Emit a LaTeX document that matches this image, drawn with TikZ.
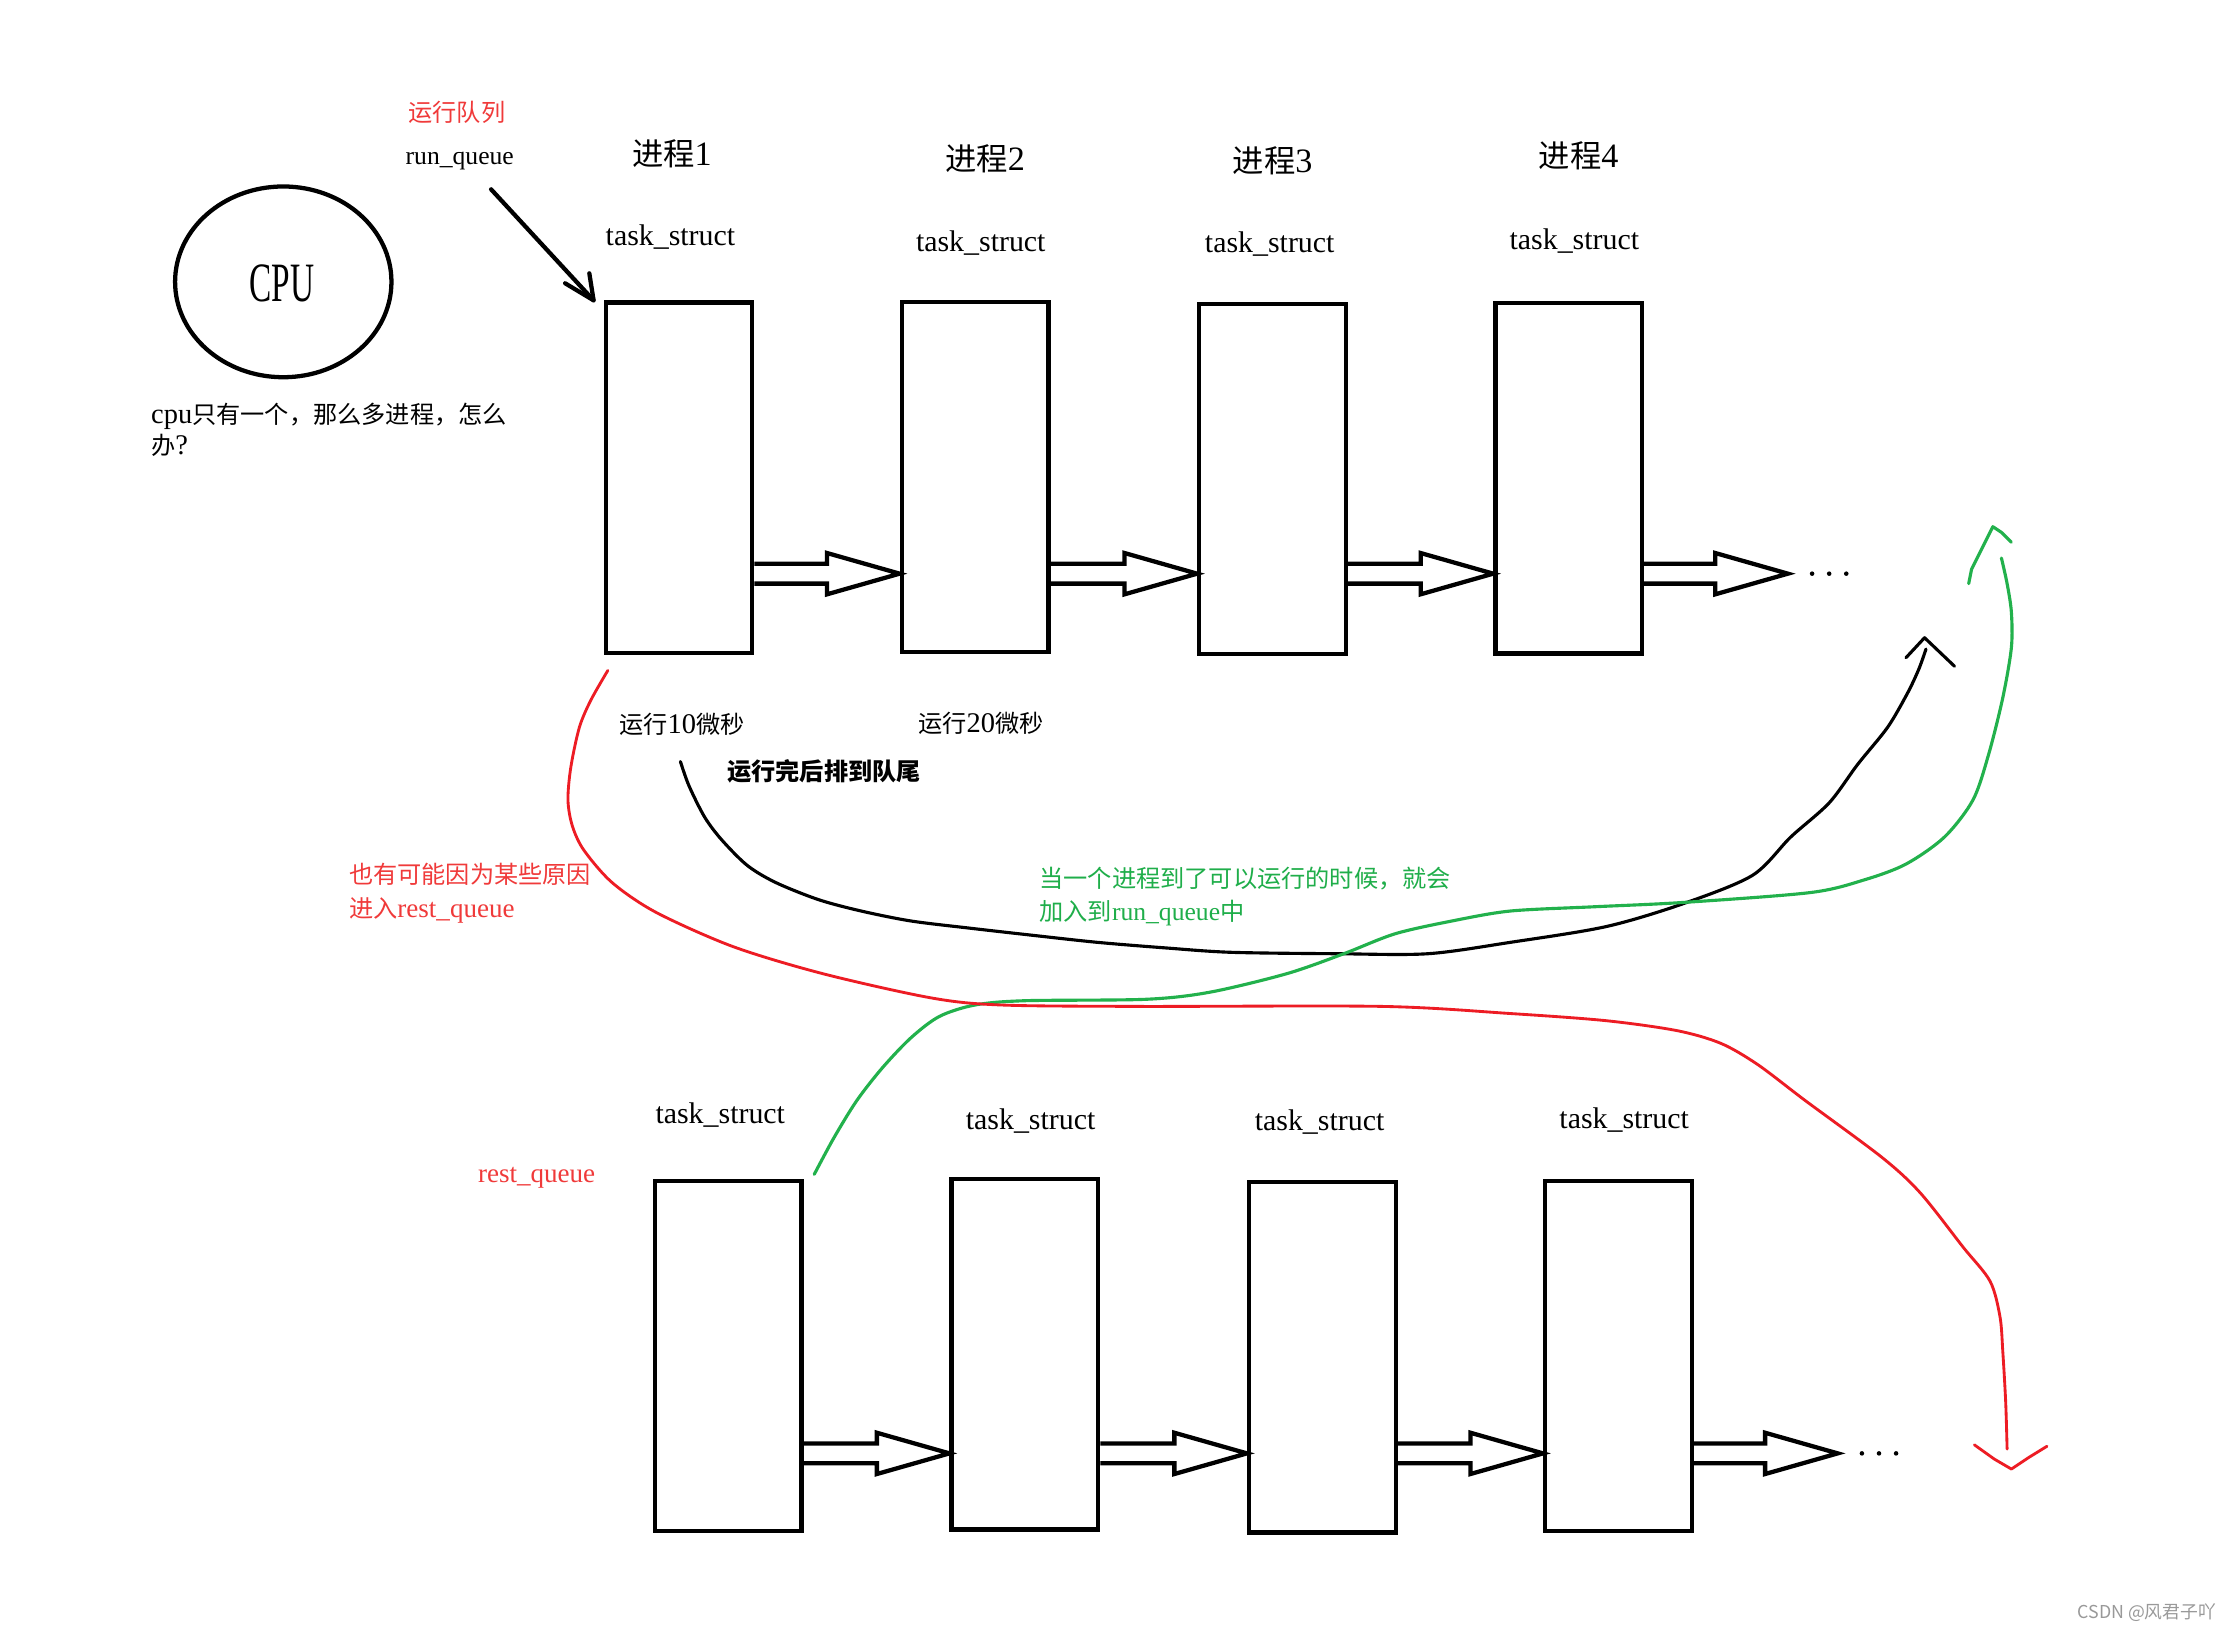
\documentclass[tikz,border=0pt]{standalone}
\usepackage{fontspec}
\usepackage{graphicx}
\setmainfont{Liberation Serif}
\newfontfamily\cjk{Noto Sans CJK SC}
\usetikzlibrary{calc,shapes.geometric}
\definecolor{pred}{HTML}{ED1C24}
\definecolor{pgreen}{HTML}{22B14C}
\definecolor{tred}{HTML}{F03A3A}
\definecolor{tgreen}{HTML}{1FAE4A}
\newcommand\zh[1]{{\cjk\fontsize{17}{22}\selectfont #1}}
\newcommand\zhh[1]{{\cjk\fontsize{22}{26}\selectfont #1}}
\newcommand\blockarr[2]{%
  \draw[blk] ($(#1)+(0,-7)$) -- ($(#2)+(-51,-7)$) -- ($(#2)+(-51,-14.5)$) -- (#2)
    -- ($(#2)+(-51,14.5)$) -- ($(#2)+(-51,7)$) -- ($(#1)+(0,7)$);}
\begin{document}
\begin{tikzpicture}[x=1pt,y=-1pt,
  box/.style={draw, line width=3pt, minimum width=103pt, minimum height=246pt, inner sep=0pt},
  lbl/.style={inner sep=0pt, text height=14pt, text depth=3pt, font=\fontsize{20}{24}\selectfont},
  tsl/.style={lbl, font=\fontsize{21}{24}\selectfont},
  head/.style={inner sep=0pt, text height=19pt, text depth=3pt, font=\fontsize{24}{26}\selectfont},
  blk/.style={draw, line width=3pt, line join=miter},
  hand/.style={line width=2.2pt, line cap=round, line join=round},
]
\fill[white] (0,0) rectangle (1568,1146);
\useasboundingbox (0,0) rectangle (1568,1146);

% CPU
\node[draw, ellipse, line width=3pt, minimum width=152pt, minimum height=134pt, inner sep=0pt] (cpu) at (199,198) {};
\node[inner sep=0pt] (cputxt) at (198,199) {\scalebox{0.6}[1]{\fontsize{39}{40}\selectfont CPU}};
\node[lbl, anchor=west] (q1) at (106,292) {cpu\zh{只有一个，那么多进程，怎么}};
\node[lbl, anchor=west] (q2) at (106,314) {\zh{办}?};

% run queue labels
\node[lbl, text=tred] (rqzh) at (321,80) {\zh{运行队列}};
\node[lbl, font=\fontsize{18}{22}\selectfont] (rq) at (323,110) {run\_queue};

% headings
\node[head] (h1) at (472,108) {\zhh{进程}1};
\node[head] (h2) at (692,112) {\zhh{进程}2};
\node[head] (h3) at (894,113) {\zhh{进程}3};
\node[head] (h4) at (1109,110) {\zhh{进程}4};

% top task_struct labels
\node[tsl] (ts1) at (471,167) {task\_struct};
\node[tsl] (ts2) at (689,171) {task\_struct};
\node[tsl] (ts3) at (892,172) {task\_struct};
\node[tsl] (ts4) at (1106,170) {task\_struct};

% top boxes
\node[box] (t1) at (477,335.5) {};
\node[box] (t2) at (685,335) {};
\node[box] (t3) at (894,336.5) {};
\node[box] (t4) at (1102,336) {};

% top arrows
\coordinate (yt) at (0,403);
\coordinate (a1s) at (t1.east |- yt);
\coordinate (a1e) at (t2.west |- yt);
\coordinate (a2s) at (t2.east |- yt);
\coordinate (a2e) at (t3.west |- yt);
\coordinate (a3s) at (t3.east |- yt);
\coordinate (a3e) at (t4.west |- yt);
\coordinate (a4s) at (t4.east |- yt);
\coordinate (a4e) at (1256,403);
\blockarr{a1s}{a1e}
\blockarr{a2s}{a2e}
\blockarr{a3s}{a3e}
\blockarr{a4s}{a4e}
\fill (1273,403) circle (1.6pt) (1285,403) circle (1.6pt) (1297,403) circle (1.6pt);

% run_queue arrow
\coordinate (rqa) at (345,133);
\coordinate (rqb) at ($(t1.north west)+(-7,0)$);
\draw[hand, line width=3pt] (rqa) -- (rqb);
\draw[hand, line width=3pt] ($(rqb)+(-3,-19)$) -- (rqb) -- ($(rqb)+(-20,-12)$);

% bottom labels
\node[lbl, text=tred, font=\fontsize{19}{22}\selectfont] (restq) at (377,825) {rest\_queue};
\node[tsl] (bs1) at (506,784) {task\_struct};
\node[tsl] (bs2) at (724,788) {task\_struct};
\node[tsl] (bs3) at (927,789) {task\_struct};
\node[tsl] (bs4) at (1141,787) {task\_struct};

% bottom boxes
\node[box] (b1) at (511.5,952.5) {};
\node[box] (b2) at (720,951.5) {};
\node[box] (b3) at (929,953.5) {};
\node[box] (b4) at (1137,952.5) {};

\coordinate (yb) at (0,1021);
\coordinate (c1s) at (b1.east |- yb);
\coordinate (c1e) at (b2.west |- yb);
\coordinate (c2s) at (b2.east |- yb);
\coordinate (c2e) at (b3.west |- yb);
\coordinate (c3s) at (b3.east |- yb);
\coordinate (c3e) at (b4.west |- yb);
\coordinate (c4s) at (b4.east |- yb);
\coordinate (c4e) at (1291,1021);
\blockarr{c1s}{c1e}
\blockarr{c2s}{c2e}
\blockarr{c3s}{c3e}
\blockarr{c4s}{c4e}
\fill (1308,1021) circle (1.6pt) (1320,1021) circle (1.6pt) (1332,1021) circle (1.6pt);

% middle labels
\node[lbl] (r10) at (479,510) {\zh{运行}10\zh{微秒}};
\node[lbl] (r20) at (689,509) {\zh{运行}20\zh{微秒}};
\node[lbl] (done) at (579,543) {{\cjk\bfseries\fontsize{17}{22}\selectfont 运行完后排到队尾}};
\node[lbl, anchor=west, text=tred] (rl1) at (245,615) {\zh{也有可能因为某些原因}};
\node[lbl, anchor=west, text=tred, font=\fontsize{19}{22}\selectfont] (rl2) at (245,639) {\zh{进入}rest\_queue};
\node[lbl, anchor=west, text=tgreen] (gl1) at (730,618) {\zh{当一个进程到了可以运行的时候，就会}};
\node[lbl, anchor=west, text=tgreen, font=\fontsize{18}{22}\selectfont] (gl2) at (730,641) {\zh{加入到}run\_queue\zh{中}};

% black curve
\coordinate (ks) at (478,535);
\coordinate (ke) at (1353,456);
\draw[hand] plot[smooth, tension=0.5] coordinates {(ks) (484,552) (495,574) (507,590) (525,608) (545,620) (575,632) (605,640) (640,647) (681,652) (725,657) (771,662) (820,666) (865,669) (940,670) (1003,670) (1061,662) (1128,651) (1182,635) (1231,615) (1258,588) (1285,564) (1305,537) (1326,511) (1340,487) (1348,470) (ke)};
\draw[hand] (1339,462) -- (1352,448) -- (1373,468);

% green curve
\coordinate (gs) at (572,825);
\coordinate (ge) at (1406,392);
\draw[hand, pgreen] plot[smooth, tension=0.5] coordinates {(gs) (586,799) (602,773) (620,750) (640,729) (660,714) (685,706) (720,703) (805,702) (850,697) (904,684) (944,670) (980,656) (1020,647) (1061,640) (1120,637) (1182,634) (1272,627) (1310,618) (1339,607) (1366,588) (1386,562) (1397,530) (1407,490) (1413,455) (1413,430) (1410,410) (ge)};
\draw[hand, pgreen] (1383,410) -- (1385,400) -- (1392,386) -- (1400,370) -- (1406,374) -- (1413,381);

% red curve
\coordinate (rs) at (427,471);
\coordinate (re) at (1410,1018);
\draw[hand, pred, line width=2pt] plot[smooth, tension=0.5] coordinates {(rs) (415,492) (407,511) (401,539) (399,562) (402,580) (410,597) (430,620) (461,641) (515,665) (578,684) (654,701) (703,706) (800,707) (971,707) (1061,712) (1128,717) (1178,724) (1209,733) (1235,748) (1268,773) (1322,813) (1349,838) (1379,876) (1398,900) (1405,925) (1407,950) (1409,985) (re)};
\draw[hand, pred, line width=2pt] (1387,1015) -- (1401,1025) -- (1413,1032) -- (1425,1024) -- (1438,1016);

% watermark
\node[inner sep=0pt, anchor=east, text=black!40] (wm) at (1557,1133) {\cjk\fontsize{12.5}{14}\selectfont CSDN @风君子吖};
\end{tikzpicture}
\end{document}
